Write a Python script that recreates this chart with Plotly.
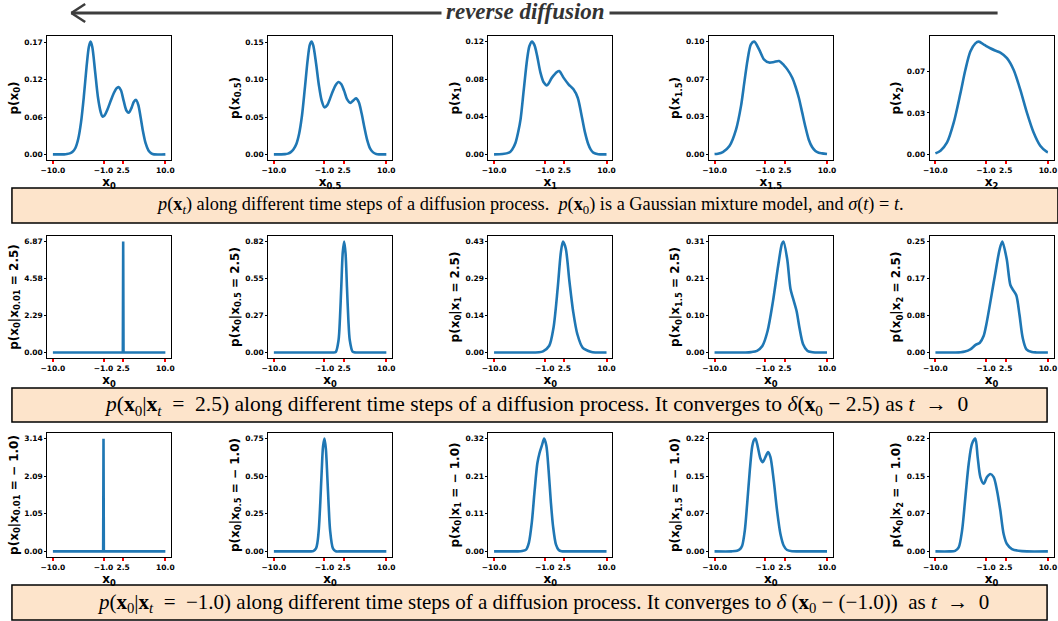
import plotly.graph_objects as go

# ---------------- data ----------------
# Row 1 : p(x_t)
r1c1_x = [-10, -8, -7.5, -7, -6.5, -6, -5.5, -5, -4.5, -4, -3.6, -3.3, -3, -2.5, -2, -1.5, -1.2, -0.8, -0.3, 0.3, 0.8, 1.3, 1.7, 2.1, 2.6, 3.1, 3.5, 4.0, 4.4, 4.8, 5.2, 5.6, 6.0, 6.5, 7.0, 7.5, 8, 10]
r1c1_y = [0, 0, 0.0005, 0.0015, 0.004, 0.01, 0.024, 0.05, 0.09, 0.138, 0.168, 0.176, 0.168, 0.13, 0.09, 0.066, 0.059, 0.061, 0.07, 0.084, 0.095, 0.103, 0.105, 0.1, 0.083, 0.068, 0.065, 0.073, 0.082, 0.085, 0.077, 0.058, 0.037, 0.017, 0.006, 0.0015, 0, 0]

r1c2_x = [-10, -8, -7.5, -7, -6.5, -6, -5.5, -5, -4.5, -4, -3.6, -3.3, -3, -2.5, -2, -1.5, -1, -0.5, 0, 0.5, 1, 1.5, 2, 2.5, 3, 3.6, 4.1, 4.6, 5.1, 5.6, 6.1, 6.6, 7.1, 7.6, 8.2, 10]
r1c2_y = [0, 0.0003, 0.001, 0.003, 0.007, 0.014, 0.028, 0.052, 0.088, 0.126, 0.147, 0.151, 0.146, 0.122, 0.093, 0.072, 0.063, 0.066, 0.075, 0.085, 0.093, 0.097, 0.094, 0.085, 0.074, 0.069, 0.072, 0.075, 0.07, 0.055, 0.036, 0.019, 0.008, 0.003, 0.0006, 0]

r1c3_x = [-10, -8.5, -7.35, -6.8, -6.18, -5.7, -5.29, -4.71, -4.12, -3.71, -3.24, -2.8, -2.35, -1.76, -1.18, -0.59, 0.29, 1.18, 1.59, 2.35, 3.24, 4.12, 4.88, 5.47, 6.18, 6.76, 7.2, 7.65, 8.53, 10]
r1c3_y = [0, 0.0003, 0.0018, 0.005, 0.0124, 0.024, 0.0373, 0.0692, 0.1012, 0.1154, 0.12, 0.116, 0.1051, 0.0873, 0.0767, 0.0735, 0.0817, 0.0877, 0.0888, 0.0817, 0.0746, 0.0692, 0.0603, 0.0444, 0.0231, 0.0107, 0.005, 0.0018, 0.0002, 0]

r1c4_x = [-10, -9.41, -8.53, -7.35, -6.18, -5.29, -4.71, -4.12, -3.53, -2.94, -2.06, -1.18, -0.29, 0.59, 1.47, 2.35, 2.94, 3.82, 4.41, 5.0, 5.59, 6.18, 6.76, 7.35, 7.94, 8.53, 9.12, 10]
r1c4_y = [0.0003, 0.0006, 0.002, 0.0074, 0.022, 0.043, 0.0636, 0.084, 0.0976, 0.1, 0.093, 0.084, 0.0814, 0.082, 0.0828, 0.079, 0.0754, 0.068, 0.06, 0.05, 0.037, 0.024, 0.013, 0.0065, 0.003, 0.0015, 0.0009, 0.0003]

r1c5_x = [-10, -9.1, -7.93, -6.75, -5.56, -4.67, -3.79, -2.9, -2.31, -1.3, -0.24, 0.6, 1.54, 2.72, 3.9, 5.09, 6.27, 7.46, 8.64, 9.82, 10]
r1c5_y = [0.0008, 0.003, 0.0096, 0.0255, 0.049, 0.068, 0.0826, 0.0892, 0.0906, 0.088, 0.0853, 0.0835, 0.0818, 0.0773, 0.068, 0.052, 0.0335, 0.0175, 0.0069, 0.002, 0.0017]

# Row 2 : p(x_0 | x_t = 2.5)
r2c1_x = [-10, 2.44, 2.5, 2.56, 10]
r2c1_y = [0, 0, 6.87, 0, 0]

r2c2_x = [-10, 0, 0.5, 1.0, 1.5, 1.75, 2.0, 2.25, 2.5, 2.75, 3.0, 3.25, 3.5, 4.0, 4.5, 5, 10]
r2c2_y = [0, 0, 0, 0.003, 0.09, 0.25, 0.5, 0.74, 0.82, 0.73, 0.48, 0.24, 0.09, 0.006, 0, 0, 0]

r2c3_x = [-10, -3, -2, -1.3, -0.19, 0.57, 1.32, 1.89, 2.26, 2.74, 3.4, 4.06, 4.81, 5.75, 7.17, 8, 10]
r2c3_y = [0, 0, 0.0005, 0.004, 0.026, 0.096, 0.25, 0.39, 0.43, 0.404, 0.276, 0.16, 0.071, 0.019, 0.003, 0, 0]

r2c4_x = [-10, -4.5, -3.5, -2.45, -1.5, -0.57, 0.38, 1.32, 1.98, 2.26, 2.92, 3.49, 3.96, 4.6, 5.1, 5.75, 6.5, 7.2, 7.9, 10]
r2c4_y = [0, 0, 0.001, 0.0046, 0.018, 0.06, 0.142, 0.243, 0.303, 0.31, 0.261, 0.179, 0.151, 0.115, 0.069, 0.023, 0.005, 0.001, 0, 0]

r2c5_x = [-10, -6.5, -5.5, -4.76, -3.8, -2.86, -2.1, -1.43, -0.95, 0.48, 1.43, 1.9, 2.67, 3.33, 3.8, 4.38, 4.95, 5.52, 6.19, 7.14, 8, 10]
r2c5_y = [0, 0, 0.0005, 0.002, 0.007, 0.017, 0.022, 0.037, 0.063, 0.166, 0.233, 0.25, 0.211, 0.152, 0.141, 0.129, 0.085, 0.033, 0.007, 0.001, 0, 0]

# Row 3 : p(x_0 | x_t = -1.0)
r3c1_x = [-10, -1.06, -1.0, -0.94, 10]
r3c1_y = [0, 0, 3.14, 0, 0]

r3c2_x = [-10, -4.5, -3.5, -3, -2.5, -2.25, -2.0, -1.75, -1.5, -1.25, -1.0, -0.75, -0.5, -0.25, 0, 0.5, 1.0, 2, 10]
r3c2_y = [0, 0, 0, 0.002, 0.02, 0.06, 0.15, 0.32, 0.53, 0.7, 0.75, 0.68, 0.5, 0.3, 0.14, 0.02, 0.001, 0, 0]

r3c3_x = [-10, -6, -5, -4.3, -3.8, -3.3, -2.8, -2.3, -1.9, -1.5, -1.1, -0.7, -0.3, 0.1, 0.5, 1.0, 1.5, 2.0, 3, 10]
r3c3_y = [0, 0, 0.0008, 0.005, 0.025, 0.08, 0.17, 0.25, 0.28, 0.3, 0.32, 0.3, 0.23, 0.14, 0.07, 0.02, 0.004, 0.0005, 0, 0]

r3c4_x = [-10, -7, -6, -5.5, -5.09, -4.62, -4.2, -3.73, -3.31, -3.02, -2.72, -2.31, -1.83, -1.42, -0.95, -0.47, -0.06, 0.53, 1.12, 1.72, 2.31, 2.9, 3.79, 5, 10]
r3c4_y = [0, 0, 0.001, 0.004, 0.011, 0.0405, 0.0927, 0.158, 0.204, 0.2167, 0.22, 0.204, 0.181, 0.174, 0.184, 0.194, 0.184, 0.138, 0.0796, 0.034, 0.011, 0.0026, 0.0003, 0, 0]

r3c5_x = [-10, -7.5, -6.5, -5.86, -5.27, -4.67, -4.08, -3.49, -2.9, -2.49, -2.01, -1.42, -0.83, -0.24, 0.36, 0.95, 1.54, 2.13, 2.72, 3.61, 4.79, 6.27, 10]
r3c5_y = [0, 0, 0.001, 0.0078, 0.04, 0.106, 0.171, 0.21, 0.22, 0.184, 0.145, 0.132, 0.145, 0.151, 0.145, 0.119, 0.08, 0.034, 0.0144, 0.0046, 0.0013, 0, 0]

# y tick maxima (ticks at 0, m/3, 2m/3, m)
ytick_max = [
    [0.175, 0.15, 0.12, 0.10, 0.10],
    [6.87, 0.82, 0.43, 0.31, 0.25],
    [3.14, 0.75, 0.32, 0.22, 0.22],
]
x_ticks = [-10, -1, 2.5, 10]
x_ticklabels = ["\u221210.0", "\u22121.0", "2.5", "10.0"]

t_labels = ["0", "0.5", "1", "1.5", "2"]
cond_t_labels = ["0.01", "0.5", "1", "1.5", "2"]
cond_values = ["2.5", "\u2212 1.0"]

captions = [
    "<i>p</i>(<b>x</b><sub><i>t</i></sub>) along different time steps of a diffusion process.  "
    "<i>p</i>(<b>x</b><sub>0</sub>) is a Gaussian mixture model, and <i>\u03c3</i>(<i>t</i>) = <i>t</i>.",
    "<i>p</i>(<b>x</b><sub>0</sub>|<b>x</b><sub><i>t</i></sub>  =  2.5) along different time steps of a diffusion process. "
    "It converges to <i>\u03b4</i>(<b>x</b><sub>0</sub> \u2212 2.5) as <i>t</i>  \u2192  0",
    "<i>p</i>(<b>x</b><sub>0</sub>|<b>x</b><sub><i>t</i></sub>  =  \u22121.0) along different time steps of a diffusion process. "
    "It converges to <i>\u03b4</i> (<b>x</b><sub>0</sub> \u2212 (\u22121.0))  as <i>t</i>  \u2192  0",
]
title_text = "reverse diffusion"

curves = [
    [(r1c1_x, r1c1_y), (r1c2_x, r1c2_y), (r1c3_x, r1c3_y), (r1c4_x, r1c4_y), (r1c5_x, r1c5_y)],
    [(r2c1_x, r2c1_y), (r2c2_x, r2c2_y), (r2c3_x, r2c3_y), (r2c4_x, r2c4_y), (r2c5_x, r2c5_y)],
    [(r3c1_x, r3c1_y), (r3c2_x, r3c2_y), (r3c3_x, r3c3_y), (r3c4_x, r3c4_y), (r3c5_x, r3c5_y)],
]

# ---------------- layout geometry (pixels) ----------------
W, H = 1058, 621
col_left = [40.7, 264.0, 486.5, 709.3, 932.5]
box_w = 125.0
row_top = [36.0, 236.0, 433.0]
row_bot = [160.0, 358.0, 557.0]
cap_boxes = [(5, 188, 1062, 223), (5, 388, 1051, 422), (5, 585, 1051, 620)]
cap_cx = [528, 535, 542]
cap_size = [18.3, 21.5, 21]


def px(x):
    return x / W


def py(y):
    return 1 - y / H


FONT = "DejaVu Sans"
BLUE = "#1f77b4"

fig = go.Figure()
layout = {}
k = 0
for r in range(3):
    for c in range(5):
        k += 1
        xs, ys = curves[r][c]
        xa = "x" if k == 1 else f"x{k}"
        ya = "y" if k == 1 else f"y{k}"
        spike = (c == 0 and r > 0)
        line = dict(color=BLUE, width=2.6, shape="linear" if spike else "spline")
        if not spike:
            line["smoothing"] = 0.8
        fig.add_trace(go.Scatter(x=xs, y=ys, mode="lines", xaxis=xa, yaxis=ya,
                                 line=line, hoverinfo="skip", showlegend=False))
        M = max(ys)
        tm = ytick_max[r][c]
        yvals = [0, tm / 3, 2 * tm / 3, tm]
        ytxt = [f"{v:.2f}" for v in yvals]
        if r == 0:
            ytitle = f"p(x<sub>{t_labels[c]}</sub>)"
            xtitle = f"x<sub>{t_labels[c]}</sub>"
        else:
            ytitle = (f"p(x<sub>0</sub>|x<sub>{cond_t_labels[c]}</sub> = "
                      f"{cond_values[r - 1]})")
            xtitle = "x<sub>0</sub>"
        xkey = "xaxis" if k == 1 else f"xaxis{k}"
        ykey = "yaxis" if k == 1 else f"yaxis{k}"
        layout[xkey] = dict(
            domain=[px(col_left[c]), min(1.0, px(col_left[c] + box_w))],
            anchor=ya, range=[-11, 11],
            tickmode="array", tickvals=x_ticks, ticktext=x_ticklabels,
            ticks="outside", ticklen=3, tickwidth=2, tickcolor="red",
            tickfont=dict(family=FONT, size=7.5, color="black", weight="bold"),
            showline=True, mirror=True, linecolor="black", linewidth=1,
            showgrid=False, zeroline=False,
            title=dict(text=xtitle, standoff=1,
                       font=dict(family=FONT, size=12, color="black", weight="bold")),
        )
        layout[ykey] = dict(
            domain=[py(row_bot[r]), py(row_top[r])],
            anchor=xa, range=[-0.05 * M, 1.05 * M],
            tickmode="array", tickvals=yvals, ticktext=ytxt,
            ticks="outside", ticklen=2, tickwidth=1, tickcolor="black",
            tickfont=dict(family=FONT, size=7.5, color="black", weight="bold"),
            showline=True, mirror=True, linecolor="black", linewidth=1,
            showgrid=False, zeroline=False,
            title=dict(text=ytitle, standoff=3,
                       font=dict(family=FONT, size=12, color="black", weight="bold")),
        )

shapes = []
annotations = []
# caption boxes
for i, (x0, y0, x1, y1) in enumerate(cap_boxes):
    shapes.append(dict(type="rect", xref="paper", yref="paper",
                       x0=px(x0), x1=px(x1), y0=py(y1), y1=py(y0),
                       fillcolor="#fde4cb", line=dict(color="black", width=1.5),
                       layer="below"))
    annotations.append(dict(xref="paper", yref="paper", x=px(cap_cx[i]), y=py((y0 + y1) / 2),
                            text=captions[i], showarrow=False, xanchor="center", yanchor="middle",
                            font=dict(family="Liberation Serif", size=cap_size[i], color="black")))

# top arrow
ARROW = "#3d3d3d"
shapes.append(dict(type="line", xref="paper", yref="paper",
                   x0=px(65), x1=px(1001), y0=py(13), y1=py(13),
                   line=dict(color=ARROW, width=3)))
shapes.append(dict(type="line", xref="paper", yref="paper",
                   x0=px(65), x1=px(79), y0=py(13), y1=py(4),
                   line=dict(color=ARROW, width=2.5)))
shapes.append(dict(type="line", xref="paper", yref="paper",
                   x0=px(65), x1=px(79), y0=py(13), y1=py(22),
                   line=dict(color=ARROW, width=2.5)))
annotations.append(dict(xref="paper", yref="paper", x=px(524), y=py(12),
                        text=f"<b><i>{title_text}</i></b>", showarrow=False,
                        xanchor="center", yanchor="middle", bgcolor="white", borderpad=4,
                        font=dict(family="Liberation Serif", size=23, color="#333333")))

fig.update_layout(
    width=W, height=H, margin=dict(l=0, r=0, t=0, b=0),
    paper_bgcolor="white", plot_bgcolor="white", showlegend=False,
    shapes=shapes, annotations=annotations, **layout)

fig.write_html("out.html",
               config={"displayModeBar": False},
               post_script="document.body.style.margin='0';"
                           "document.body.style.overflow='hidden';")
